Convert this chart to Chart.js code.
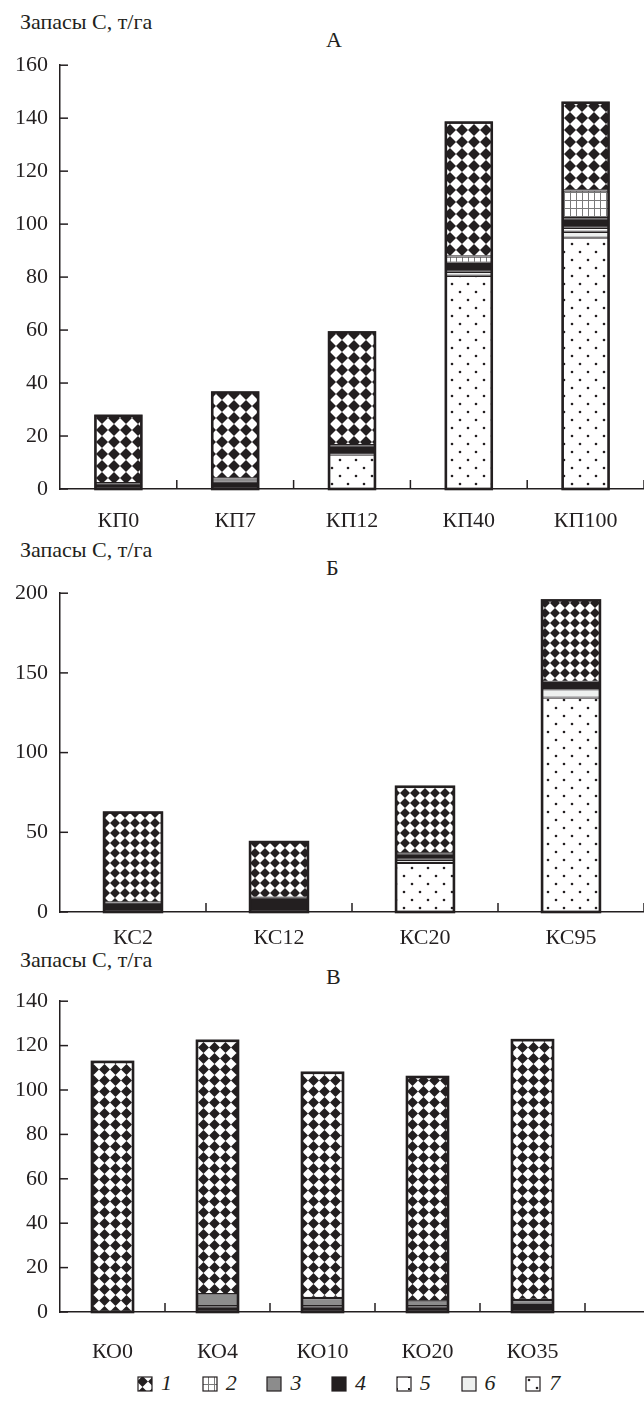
<!DOCTYPE html>
<html>
<head>
<meta charset="utf-8">
<script src="https://cdn.jsdelivr.net/npm/chart.js@4.4.1/dist/chart.umd.min.js"></script>
<style>
  html, body { margin: 0; padding: 0; width: 644px; height: 1403px; overflow: hidden; background: #fff; }
  .wrap { position: absolute; left: 0; width: 644px; overflow: hidden; }
  .lbl { position: absolute; font: 22px 'Liberation Serif', serif; color: #231f20; white-space: nowrap; line-height: 1; }
  .key { position: absolute; top: 1375px; height: 18px; }
  .key canvas { position: absolute; left: 0; top: 1px; }
  .key span { position: absolute; left: 24px; top: -3px; font: italic 22px 'Liberation Serif', serif; color: #231f20; line-height: 1; }
</style>
</head>
<body>
<div class="lbl" style="left:20px; top:11px">Запасы С, т/га</div>
<div class="lbl" style="left:326px; top:29px">А</div>
<div class="lbl" style="left:20px; top:539px">Запасы С, т/га</div>
<div class="lbl" style="left:326px; top:557px">Б</div>
<div class="lbl" style="left:20px; top:949px">Запасы С, т/га</div>
<div class="lbl" style="left:326px; top:966px">В</div>

<div class="wrap" style="top:40px; height:500px"><canvas id="chartA"></canvas></div>
<div class="wrap" style="top:568px; height:385px"><canvas id="chartB"></canvas></div>
<div class="wrap" style="top:976px; height:386px"><canvas id="chartC"></canvas></div>
<div id="legend"></div>

<script>
// --- data (series 1..7 as in the legend) ---
const catsA = ['КП0', 'КП7', 'КП12', 'КП40', 'КП100'];
const a1 = [25.8, 32.8, 43.0, 50.9, 33.5];
const a2 = [null, null, null, 2.4, 10.5];
const a3 = [null, 1.2, null, null, null];
const a4 = [2.2, 2.8, 3.5, 3.4, 3.6];
const a5 = [null, null, null, null, 1.5];
const a6 = [null, null, null, 1.5, 2.2];
const a7 = [null, null, 13.0, 80.5, 94.9];

const catsB = ['КС2', 'КС12', 'КС20', 'КС95'];
const b1 = [57.0, 35.5, 42.4, 51.7];
const b4 = [6.0, 9.0, 4.0, 4.7];
const b6 = [null, null, 2.0, 5.2];
const b7 = [null, null, 30.8, 134.5];

const catsC = ['КО0', 'КО4', 'КО10', 'КО20', 'КО35'];
const c1 = [113.1, 114.6, 101.9, 101.5, 117.5];
const c3 = [null, 5.4, 3.7, 2.2, 1.7];
const c4 = [null, 2.6, 2.6, 2.6, 3.7];

const legendNames = ['1', '2', '3', '4', '5', '6', '7'];

const INK = '#231f20';
const FONT = "'Liberation Serif', 'Times New Roman', serif";

// pattern tiles
function tile(w, h, draw) {
  const c = document.createElement('canvas');
  c.width = w; c.height = h;
  const g = c.getContext('2d');
  g.fillStyle = '#fff';
  g.fillRect(0, 0, w, h);
  draw(g, w, h);
  return g.createPattern(c, 'repeat');
}
function checker(s) {
  return tile(s, s, (g, w, h) => {
    g.fillStyle = INK;
    g.beginPath();
    g.moveTo(w / 2, 0); g.lineTo(w, h / 2); g.lineTo(w / 2, h); g.lineTo(0, h / 2);
    g.closePath(); g.fill();
  });
}
const gridFill = tile(6, 8, (g, w, h) => {
  g.fillStyle = '#7a7a7a';
  g.fillRect(0, 0, 1, h);
  g.fillRect(0, 0, w, 1);
});
const dotFill = tile(16, 16, g => {
  g.fillStyle = INK;
  [[4, 4], [12, 12]].forEach(([x, y]) => { g.beginPath(); g.arc(x, y, 1.3, 0, Math.PI * 2); g.fill(); });
});
const cornerFill = tile(12, 12, g => { g.fillStyle = INK; g.fillRect(0, 0, 2, 2); });

function fills(checkSize) {
  return [checker(checkSize), gridFill, '#8c8c8c', INK, cornerFill, '#eef0ef', dotFill];
}

// inward tick marks on both axes + heavy outline round each stack
const inTicks = {
  id: 'inTicks',
  afterDatasetsDraw(chart) {
    const { ctx } = chart;
    const n = chart.data.labels.length;
    ctx.save();
    ctx.strokeStyle = INK;
    ctx.lineWidth = 2.6;
    for (let i = 0; i < n; i++) {
      let top = null, base = null, x = null, w = null;
      chart.data.datasets.forEach((ds, d) => {
        if (ds.data[i] == null) return;
        const el = chart.getDatasetMeta(d).data[i];
        if (!el) return;
        top = top === null ? el.y : Math.min(top, el.y);
        base = base === null ? el.base : Math.max(base, el.base);
        x = el.x; w = el.width;
      });
      if (top !== null) ctx.strokeRect(x - w / 2 + 1, top + 1, w - 2, base - top - 1);
    }
    ctx.restore();
  },
  afterDraw(chart) {
    const { ctx, chartArea: a, scales: { x, y } } = chart;
    ctx.save();
    ctx.strokeStyle = INK;
    ctx.lineWidth = 1.5;
    y.ticks.forEach(t => {
      const py = y.getPixelForValue(t.value);
      ctx.beginPath(); ctx.moveTo(a.left, py); ctx.lineTo(a.left + 8, py); ctx.stroke();
    });
    const n = x.ticks.length;
    const half = (a.right - a.left) / n / 2;
    for (let i = 0; i < n; i++) {
      const px = x.getPixelForValue(i) + half;
      ctx.beginPath(); ctx.moveTo(px, a.bottom); ctx.lineTo(px, a.bottom - 9); ctx.stroke();
    }
    ctx.restore();
  }
};

function makeChart(id, w, h, labels, series, yMax, yStep, checkSize, xH, xPad) {
  const canvas = document.getElementById(id);
  canvas.width = w; canvas.height = h;
  canvas.style.width = w + 'px'; canvas.style.height = h + 'px';
  const f = fills(checkSize);
  const datasets = [];
  for (let k = 6; k >= 0; k--) {
    datasets.push({
      label: legendNames[k],
      data: series[k] || [],
      backgroundColor: f[k],
      borderColor: INK,
      borderWidth: 1.2,
      borderSkipped: false,
      barPercentage: 0.41,
      categoryPercentage: 1
    });
  }
  return new Chart(canvas, {
    type: 'bar',
    data: { labels, datasets },
    options: {
      responsive: false,
      animation: false,
      devicePixelRatio: 1,
      layout: { padding: { top: 18, left: 0, right: 0, bottom: 0 } },
      plugins: { tooltip: { enabled: false }, legend: { display: false } },
      scales: {
        x: {
          stacked: true,
          grid: { display: false, drawTicks: false },
          border: { display: true, color: INK, width: 1.5 },
          ticks: { color: INK, font: { family: FONT, size: 22 }, padding: xPad, maxRotation: 0, autoSkip: false },
          afterFit: s => { s.height = xH; }
        },
        y: {
          stacked: true, min: 0, max: yMax,
          grid: { display: false, drawTicks: false },
          border: { display: true, color: INK, width: 1.5 },
          ticks: { stepSize: yStep, color: INK, font: { family: FONT, size: 22 }, padding: 12 },
          afterFit: s => { s.width = 60; }
        }
      }
    },
    plugins: [inTicks]
  });
}

makeChart('chartA', 644, 500, catsA, [a1, a2, a3, a4, a5, a6, a7], 160, 20, 12, 51, 19);
makeChart('chartB', 644, 385, catsB, [b1, null, null, b4, null, b6, b7], 200, 50, 10, 41, 13);
makeChart('chartC', 690, 386, catsC.concat(['']), [c1, null, c3, c4, null, null, null], 140, 20, 11, 50, 27);

// legend row under panel В
const keyFills = fills(11);
const legend = document.getElementById('legend');
legendNames.forEach((name, i) => {
  const item = document.createElement('div');
  item.className = 'key';
  item.style.left = (137 + 64.7 * i) + 'px';
  const sw = document.createElement('canvas');
  sw.width = 16; sw.height = 16;
  const g = sw.getContext('2d');
  g.fillStyle = keyFills[i];
  g.fillRect(1, 1, 14, 14);
  g.strokeStyle = INK; g.lineWidth = 1.2;
  g.strokeRect(1, 1, 14, 14);
  const tx = document.createElement('span');
  tx.textContent = name;
  item.appendChild(sw); item.appendChild(tx);
  legend.appendChild(item);
});
</script>
</body>
</html>
